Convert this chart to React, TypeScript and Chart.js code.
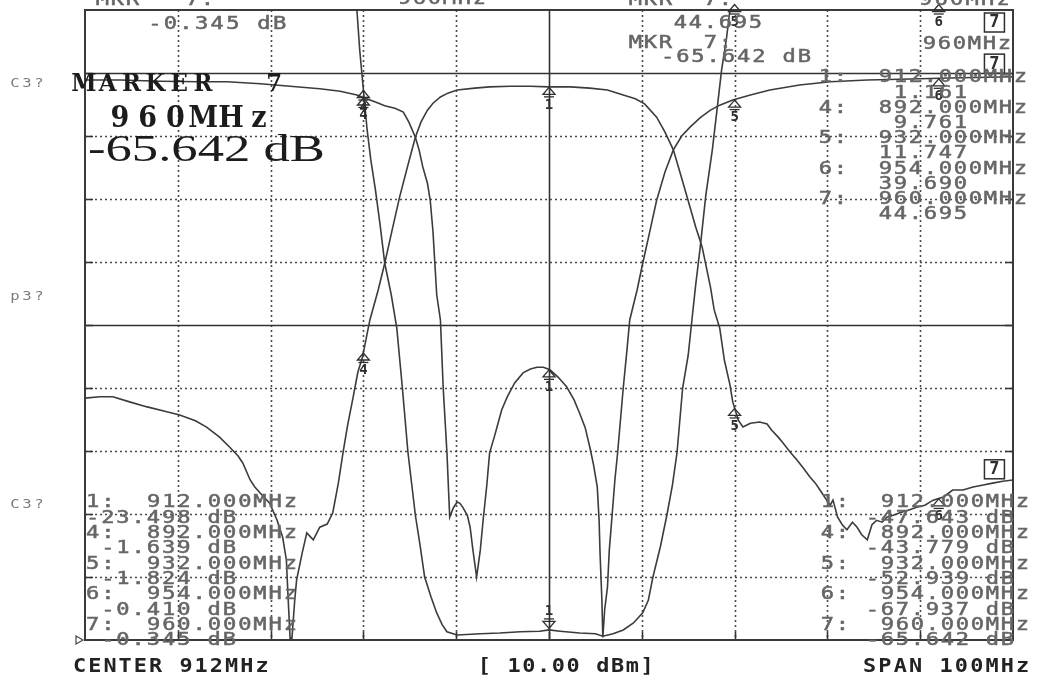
import { useEffect, useRef } from 'react';
import { Chart, registerables } from 'chart.js';

Chart.register(...registerables);

// ---- traces (frequency in MHz, level in dB) ----
const FREQ_BANDPASS = [862.0, 863.6, 865.0, 866.8, 868.7, 870.6, 872.2, 873.9, 875.1, 876.5, 877.6, 878.5, 879.0, 879.8, 880.3, 880.9, 881.9, 882.7, 883.3, 883.7, 883.9, 884.1, 884.3, 884.6, 884.8, 885.4, 885.9, 886.6, 887.3, 888.1, 888.7, 889.3, 889.8, 890.3, 890.9, 891.4, 891.9, 892.7, 893.6, 894.3, 895.1, 895.9, 896.8, 897.6, 898.2, 898.9, 899.5, 900.3, 901.1, 902.1, 904.0, 905.6, 907.8, 910.0, 912.0, 914.3, 916.4, 918.3, 920.0, 921.3, 922.3, 923.6, 924.5, 925.4, 926.3, 927.2, 927.8, 928.5, 929.4, 929.8, 930.4, 930.9, 931.5, 931.8, 932.4, 932.9, 933.7, 934.7, 935.5, 936.0, 936.7, 937.2, 938.0, 938.7, 939.4, 940.1, 940.7, 941.2, 941.7, 942.3, 942.6, 943.1, 943.6, 944.1, 944.7, 945.2, 945.7, 946.3, 946.8, 947.3, 947.9, 948.4, 949.1, 949.8, 950.7, 951.7, 952.5, 953.4, 954.5, 955.5, 956.6, 957.7, 958.8, 959.8, 960.9, 962.0];
const DB_BANDPASS = [-61.6, -61.4, -61.4, -62.2, -63.0, -63.7, -64.3, -65.2, -66.2, -67.8, -69.4, -70.8, -71.9, -74.6, -75.7, -76.7, -78.3, -81.0, -83.7, -87.3, -93.7, -99.7, -99.7, -93.7, -90.5, -86.2, -83.0, -84.1, -82.1, -81.6, -79.8, -75.1, -70.3, -65.9, -61.4, -57.5, -55.1, -49.2, -44.4, -40.2, -34.9, -29.7, -24.6, -20.2, -17.8, -15.9, -14.8, -13.8, -13.2, -12.7, -12.4, -12.2, -12.1, -12.1, -12.2, -12.2, -12.4, -12.7, -13.5, -14.1, -14.9, -17.0, -19.4, -22.2, -26.7, -31.3, -34.4, -37.6, -44.0, -47.6, -50.5, -55.6, -59.5, -62.2, -65.1, -66.2, -65.6, -65.4, -65.7, -66.7, -67.8, -68.7, -70.2, -71.4, -72.7, -74.1, -75.1, -76.2, -77.3, -78.6, -77.8, -80.5, -81.7, -82.5, -81.3, -82.1, -83.3, -84.1, -81.7, -81.0, -81.3, -80.5, -80.2, -79.8, -79.4, -78.9, -78.6, -77.8, -77.3, -76.2, -76.2, -75.7, -75.4, -75.1, -74.8, -74.6];

const FREQ_RETURN = [862.0, 865.8, 870.1, 874.4, 877.3, 880.9, 884.1, 887.3, 889.5, 891.3, 892.2, 893.3, 894.3, 895.4, 896.3, 896.9, 897.6, 898.0, 898.4, 898.9, 899.2, 899.5, 899.7, 899.9, 900.3, 900.6, 901.0, 901.3, 901.7, 902.1, 902.4, 902.7, 903.2, 903.5, 903.8, 904.2, 904.6, 904.9, 905.3, 905.6, 906.1, 906.4, 906.9, 907.5, 908.3, 909.2, 910.0, 910.7, 911.4, 912.1, 913.0, 913.9, 914.7, 915.3, 915.9, 916.4, 916.8, 917.2, 917.4, 917.5, 917.7, 917.8, 918.0, 918.3, 918.5, 918.8, 919.1, 919.4, 920.0, 920.4, 920.7, 921.5, 922.1, 922.9, 923.6, 924.5, 925.4, 926.3, 927.2, 928.3, 929.4, 930.4, 931.8, 933.7, 935.8, 939.0, 942.3, 946.3, 949.8, 955.2, 962.0];
const DB_RETURN = [-11.1, -11.1, -11.3, -11.4, -11.4, -11.7, -12.1, -12.5, -12.9, -13.5, -14.0, -14.6, -15.2, -15.6, -16.2, -17.8, -20.2, -22.2, -24.9, -27.5, -30.2, -35.2, -40.2, -45.2, -49.2, -60.0, -70.2, -80.5, -79.0, -78.1, -78.3, -78.9, -80.2, -82.1, -85.7, -90.0, -85.7, -81.0, -75.4, -70.3, -67.8, -66.2, -63.5, -61.4, -59.2, -57.6, -57.0, -56.7, -56.7, -57.1, -58.3, -59.8, -61.9, -64.0, -66.3, -69.4, -72.2, -75.7, -81.0, -86.2, -93.7, -99.6, -95.2, -91.6, -85.7, -80.2, -74.6, -70.2, -60.0, -54.0, -49.2, -44.4, -40.2, -34.9, -30.2, -25.7, -22.2, -20.0, -18.6, -17.1, -15.9, -15.1, -14.3, -13.5, -12.7, -11.9, -11.4, -11.1, -11.0, -10.8, -10.6];

const FREQ_NOTCH = [891.0, 891.3, 891.6, 892.0, 892.4, 892.8, 893.3, 893.8, 894.3, 895.0, 895.6, 896.2, 896.8, 897.6, 898.1, 898.6, 899.3, 899.9, 900.5, 901.0, 902.1, 904.6, 906.7, 908.9, 911.0, 912.0, 913.2, 915.3, 917.0, 917.8, 918.9, 920.0, 921.1, 922.1, 922.7, 923.2, 924.0, 924.7, 925.3, 925.8, 926.4, 927.0, 927.4, 927.8, 928.3, 928.9, 929.6, 930.1, 930.6, 931.1, 931.5, 931.9];
const DB_NOTCH = [6.3, 0.0, -6.3, -12.7, -19.0, -23.8, -28.6, -34.1, -40.2, -45.2, -50.5, -60.0, -70.2, -80.2, -84.9, -90.0, -93.2, -95.7, -97.6, -98.7, -99.2, -99.0, -98.9, -98.7, -98.6, -98.4, -98.6, -98.9, -99.0, -99.4, -99.0, -98.4, -97.3, -95.7, -93.7, -90.0, -85.2, -80.2, -75.4, -70.2, -60.0, -54.8, -49.2, -43.7, -37.6, -29.4, -22.2, -15.9, -9.5, -4.8, 0.0, 5.6];

// ---- markers ----
const MARKER_IDS = ['1', '4', '5', '6', '7'];
const MARKER_FREQS = [912, 892, 932, 954, 960];

// ---- readouts ----
const READOUT_FREQS = ['912.000MHz', '892.000MHz', '932.000MHz', '954.000MHz', '960.000MHz'];
const UPPER_VALUES = [' 1.161', ' 9.761', '11.747', '39.690', '44.695'];
const LEFT_VALUES = ['-23.498 dB', ' -1.639 dB', ' -1.824 dB', ' -0.410 dB', ' -0.345 dB'];
const RIGHT_VALUES = ['-47.643 dB', '-43.779 dB', '-52.939 dB', '-67.937 dB', '-65.642 dB'];

const X_MIN = 862;
const X_MAX = 962;
const Y_MIN = -100;
const Y_MAX = 0;

function interp(fs: number[], vs: number[], f: number): number {
  if (f <= fs[0]) return vs[0];
  for (let i = 1; i < fs.length; i++) {
    if (f <= fs[i]) {
      const t = (f - fs[i - 1]) / (fs[i] - fs[i - 1]);
      return vs[i - 1] + t * (vs[i] - vs[i - 1]);
    }
  }
  return vs[vs.length - 1];
}

function mono(ctx: CanvasRenderingContext2D, text: string, x: number, y: number, cw: number, font: string, color: string, sx = 1, stroke = 0) {
  ctx.save();
  ctx.font = font;
  ctx.fillStyle = color;
  ctx.strokeStyle = color;
  ctx.lineWidth = stroke;
  ctx.textAlign = 'center';
  ctx.textBaseline = 'middle';
  for (let i = 0; i < text.length; i++) {
    const ch = text[i];
    if (ch === ' ') continue;
    ctx.save();
    ctx.translate(x + cw * i + cw / 2, y);
    ctx.scale(sx, 1);
    ctx.fillText(ch, 0, 0);
    if (stroke > 0) ctx.strokeText(ch, 0, 0);
    ctx.restore();
  }
  ctx.restore();
}

function upMarker(ctx: CanvasRenderingContext2D, x: number, y: number, id: string) {
  ctx.save();
  ctx.strokeStyle = '#2e2e2e';
  ctx.lineWidth = 1.3;
  ctx.beginPath();
  ctx.moveTo(x, y + 0.5);
  ctx.lineTo(x - 6, y + 7.5);
  ctx.lineTo(x + 6, y + 7.5);
  ctx.closePath();
  ctx.stroke();
  ctx.beginPath();
  ctx.moveTo(x - 5, y + 10);
  ctx.lineTo(x + 5, y + 10);
  ctx.stroke();
  ctx.font = 'bold 14px "DejaVu Sans Mono"';
  ctx.fillStyle = '#2e2e2e';
  ctx.textAlign = 'center';
  ctx.textBaseline = 'middle';
  ctx.fillText(id, x, y + 18);
  ctx.restore();
}

function downMarker(ctx: CanvasRenderingContext2D, x: number, y: number, id: string) {
  ctx.save();
  ctx.strokeStyle = '#2e2e2e';
  ctx.lineWidth = 1.3;
  ctx.beginPath();
  ctx.moveTo(x, y - 1.5);
  ctx.lineTo(x - 6, y - 8.5);
  ctx.lineTo(x + 6, y - 8.5);
  ctx.closePath();
  ctx.stroke();
  ctx.beginPath();
  ctx.moveTo(x - 5, y - 11);
  ctx.lineTo(x + 5, y - 11);
  ctx.stroke();
  ctx.font = 'bold 14px "DejaVu Sans Mono"';
  ctx.fillStyle = '#2e2e2e';
  ctx.textAlign = 'center';
  ctx.textBaseline = 'middle';
  ctx.fillText(id, x, y - 19);
  ctx.restore();
}

function boxMarker(ctx: CanvasRenderingContext2D, x: number, y: number, id: string) {
  ctx.save();
  ctx.strokeStyle = '#2e2e2e';
  ctx.lineWidth = 1.5;
  ctx.fillStyle = '#ffffff';
  ctx.fillRect(x - 10, y - 23, 20, 19);
  ctx.strokeRect(x - 10, y - 23, 20, 19);
  ctx.font = 'bold 17px "DejaVu Sans Mono"';
  ctx.fillStyle = '#2e2e2e';
  ctx.textAlign = 'center';
  ctx.textBaseline = 'middle';
  ctx.fillText(id, x, y - 13);
  ctx.restore();
}

const analyzerPlugin = {
  id: 'analyzer',
  beforeDraw(chart: any) {
    const ctx = chart.ctx as CanvasRenderingContext2D;
    ctx.save();
    ctx.fillStyle = '#ffffff';
    ctx.fillRect(0, 0, chart.width, chart.height);
    ctx.restore();
  },
  beforeDatasetsDraw(chart: any) {
    const ctx = chart.ctx as CanvasRenderingContext2D;
    const xs = chart.scales.x;
    const ys = chart.scales.y;
    const { left, right, top, bottom } = chart.chartArea;
    ctx.save();
    for (let f = X_MIN + 10; f < X_MAX; f += 10) {
      const px = Math.round(xs.getPixelForValue(f)) + 0.5;
      ctx.beginPath();
      if (f === 912) {
        ctx.setLineDash([]);
        ctx.strokeStyle = '#333';
      } else {
        ctx.setLineDash([2, 3]);
        ctx.strokeStyle = '#4a4a4a';
      }
      ctx.lineWidth = 1.6;
      ctx.moveTo(px, top);
      ctx.lineTo(px, bottom);
      ctx.stroke();
      ctx.setLineDash([]);
      ctx.strokeStyle = '#333';
      ctx.beginPath();
      ctx.moveTo(px, bottom - 8);
      ctx.lineTo(px, bottom);
      ctx.stroke();
    }
    for (let v = Y_MAX - 10; v > Y_MIN; v -= 10) {
      const py = Math.round(ys.getPixelForValue(v)) + 0.5;
      ctx.beginPath();
      if (v === -10 || v === -50) {
        ctx.setLineDash([]);
        ctx.strokeStyle = '#333';
      } else {
        ctx.setLineDash([2, 3]);
        ctx.strokeStyle = '#4a4a4a';
      }
      ctx.lineWidth = 1.6;
      ctx.moveTo(left, py);
      ctx.lineTo(right, py);
      ctx.stroke();
      ctx.setLineDash([]);
      ctx.strokeStyle = '#333';
      ctx.beginPath();
      ctx.moveTo(left, py);
      ctx.lineTo(left + 8, py);
      ctx.moveTo(right - 8, py);
      ctx.lineTo(right, py);
      ctx.stroke();
    }
    ctx.setLineDash([]);
    ctx.strokeStyle = '#3a3a3a';
    ctx.lineWidth = 2;
    ctx.strokeRect(left, top, right - left, bottom - top);
    ctx.restore();
  },
  afterDatasetsDraw(chart: any) {
    const ctx = chart.ctx as CanvasRenderingContext2D;
    const xs = chart.scales.x;
    const ys = chart.scales.y;
    const { top } = chart.chartArea;

    const traces = [
      { f: FREQ_BANDPASS, v: DB_BANDPASS, kind: 'bandpass' },
      { f: FREQ_RETURN, v: DB_RETURN, kind: 'return' },
      { f: FREQ_NOTCH, v: DB_NOTCH, kind: 'notch' },
    ];
    traces.forEach((t) => {
      MARKER_FREQS.forEach((mf, i) => {
        const id = MARKER_IDS[i];
        const val = t.kind === 'notch' && (mf > 932 || mf < 891) ? 10 : interp(t.f, t.v, mf);
        const px = xs.getPixelForValue(mf);
        let py = ys.getPixelForValue(val);
        const clamped = py < top;
        if (id === '7') {
          if (clamped) boxMarker(ctx, px, top + 26, id);
          else boxMarker(ctx, px, py, id);
        } else if (t.kind === 'notch' && id === '1') {
          downMarker(ctx, px, py, id);
        } else {
          if (clamped) py = top - 6;
          upMarker(ctx, px, py, id);
        }
      });
    });

    const small = '17px "DejaVu Sans Mono"';
    const grey = '#666666';
    const sx = 1.3;
    const sw = 0.5;

    mono(ctx, 'C3?', 9, 84, 12, '12px "DejaVu Sans Mono"', '#7a7a7a', 1.3);
    mono(ctx, 'p3?', 9, 297, 12, '12px "DejaVu Sans Mono"', '#7a7a7a', 1.3);
    mono(ctx, 'C3?', 9, 505, 12, '12px "DejaVu Sans Mono"', '#7a7a7a', 1.3);

    mono(ctx, 'MKR   7:', 95, 1, 15, small, grey, sx, sw);
    mono(ctx, '-0.345 dB', 147, 25, 15.6, small, grey, sx, sw);
    mono(ctx, '960MHz', 397, 0, 15, small, grey, sx, sw);
    mono(ctx, 'MKR  7:', 628, 1, 15, small, grey, sx, sw);
    mono(ctx, '44.695', 673, 24, 15, small, grey, sx, sw);
    mono(ctx, 'MKR  7:', 628, 44, 15, small, grey, sx, sw);
    mono(ctx, '-65.642 dB', 660, 58, 15.2, small, grey, sx, sw);
    mono(ctx, '960MHz', 918, 1, 15.5, small, grey, sx, sw);
    mono(ctx, '960MHz', 922, 45, 15, small, grey, sx, sw);

    READOUT_FREQS.forEach((fr, i) => {
      const y0 = 78 + i * 2 * 15.2;
      mono(ctx, MARKER_IDS[i] + ':', 818, y0, 15, small, grey, sx, sw);
      mono(ctx, fr, 878, y0, 15, small, grey, sx, sw);
      mono(ctx, UPPER_VALUES[i], 878, y0 + 15.2, 15, small, grey, sx, sw);
    });

    READOUT_FREQS.forEach((fr, i) => {
      const y0 = 503 + i * 2 * 15.3;
      mono(ctx, MARKER_IDS[i] + ':', 85, y0, 15.2, small, grey, sx, sw);
      mono(ctx, fr, 146, y0, 15.2, small, grey, sx, sw);
      mono(ctx, LEFT_VALUES[i], 85, y0 + 15.3, 15.2, small, grey, sx, sw);
    });

    READOUT_FREQS.forEach((fr, i) => {
      const y0 = 503 + i * 2 * 15.3;
      mono(ctx, MARKER_IDS[i] + ':', 820, y0, 15, small, grey, sx, sw);
      mono(ctx, fr, 880, y0, 15, small, grey, sx, sw);
      mono(ctx, RIGHT_VALUES[i], 865, y0 + 15.3, 15, small, grey, sx, sw);
    });

    mono(ctx, 'MARKER  7', 72, 85, 23.8, 'bold 24px "DejaVu Serif"', '#1c1c1c', 0.95);
    mono(ctx, '960MHz', 106, 119, 27.8, 'bold 30px "DejaVu Serif"', '#1c1c1c', 0.9);
    ctx.save();
    ctx.font = '38px "Liberation Serif"';
    ctx.fillStyle = '#1c1c1c';
    ctx.textBaseline = 'middle';
    ctx.textAlign = 'left';
    const bigTxt = '-65.642 dB';
    const w = ctx.measureText(bigTxt).width;
    ctx.translate(88, 151);
    ctx.scale(237 / w, 1);
    ctx.fillText(bigTxt, 0, 0);
    ctx.restore();

    ctx.save();
    ctx.strokeStyle = '#444';
    ctx.lineWidth = 1.2;
    ctx.beginPath();
    ctx.moveTo(76, 636);
    ctx.lineTo(83, 640);
    ctx.lineTo(76, 644);
    ctx.closePath();
    ctx.stroke();
    ctx.restore();

    const bold = 'bold 19px "DejaVu Sans Mono"';
    mono(ctx, 'CENTER 912MHz', 72, 667, 15.2, bold, '#222', 1.15);
    mono(ctx, '[ 10.00 dBm]', 477, 667, 14.8, bold, '#222', 1.15);
    mono(ctx, 'SPAN 100MHz', 862, 667, 15.3, bold, '#222', 1.15);
  },
};

export default function App() {
  const canvasRef = useRef<HTMLCanvasElement | null>(null);

  useEffect(() => {
    document.body.style.margin = '0';
    const canvas = canvasRef.current;
    if (!canvas) return;
    const mk = (fs: number[], vs: number[]) => fs.map((f, i) => ({ x: f, y: vs[i] }));
    const lineStyle = { borderColor: '#3c3c3c', borderWidth: 1.6, pointRadius: 0, tension: 0, fill: false };
    const chart = new Chart(canvas, {
      type: 'line',
      data: {
        datasets: [
          { label: 'S21 band-pass', data: mk(FREQ_BANDPASS, DB_BANDPASS), ...lineStyle },
          { label: 'S11', data: mk(FREQ_RETURN, DB_RETURN), ...lineStyle },
          { label: 'S21 notch', data: mk(FREQ_NOTCH, DB_NOTCH), ...lineStyle },
        ],
      },
      options: {
        responsive: false,
        animation: false,
        events: [],
        layout: { padding: { left: 85, top: 10, right: 35, bottom: 41 } },
        scales: {
          x: { type: 'linear', min: X_MIN, max: X_MAX, display: false },
          y: { type: 'linear', min: Y_MIN, max: Y_MAX, display: false },
        },
        plugins: {
          legend: { display: false },
          tooltip: { enabled: false },
        },
      },
      plugins: [analyzerPlugin],
    });
    return () => chart.destroy();
  }, []);

  return (
    <div style={{ position: 'absolute', left: 0, top: 0, width: 1048, height: 681, background: '#fff' }}>
      <canvas ref={canvasRef} width={1048} height={681} style={{ display: 'block' }} />
    </div>
  );
}
